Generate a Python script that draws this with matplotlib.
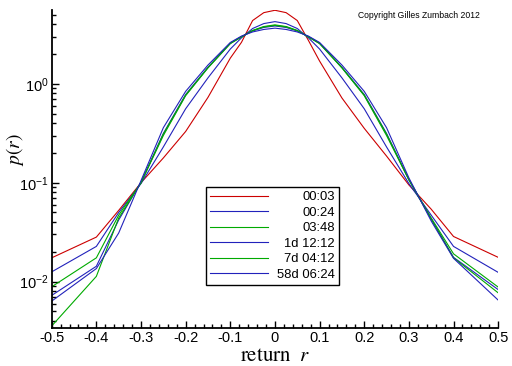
import numpy as np
import matplotlib
matplotlib.use("Agg")
import matplotlib.pyplot as plt
from matplotlib.ticker import LogLocator, MultipleLocator, NullFormatter, FuncFormatter

plt.rcParams['font.family'] = ['Liberation Sans', 'DejaVu Sans']
plt.rcParams['mathtext.fontset'] = 'stix'

r = [-0.5, -0.4, -0.35, -0.3, -0.25, -0.2, -0.15, -0.1, -0.075, -0.05, -0.025, 0.0,
     0.025, 0.05, 0.075, 0.1, 0.15, 0.2, 0.25, 0.3, 0.35, 0.4, 0.5]

labels = ["00:03", "00:24", "03:48", "1d 12:12", "7d 04:12", "58d 06:24"]
colors = ["#cc0000", "#2222bb", "#00aa00", "#2222bb", "#00aa00", "#2222bb"]

p_0003 = [0.0174, 0.0282, 0.0525, 0.100, 0.178, 0.33, 0.73, 1.82, 2.63, 4.37, 5.25, 5.55,
          5.25, 4.37, 2.75, 1.70, 0.72, 0.355, 0.186, 0.095, 0.054, 0.0286, 0.0176]
p_0024 = [0.01255, 0.0227, 0.050, 0.098, 0.23, 0.56, 1.15, 2.25, 2.92, 3.63, 4.07, 4.26,
          4.07, 3.63, 2.92, 2.25, 1.15, 0.56, 0.23, 0.098, 0.047, 0.0227, 0.0124]
p_0348 = [0.00887, 0.0174, 0.047, 0.100, 0.30, 0.76, 1.45, 2.55, 2.98, 3.47, 3.80, 3.95,
          3.80, 3.47, 2.98, 2.55, 1.45, 0.76, 0.30, 0.107, 0.044, 0.0191, 0.0088]
p_1d = [0.00725, 0.0143, 0.042, 0.101, 0.315, 0.78, 1.47, 2.58, 3.01, 3.43, 3.72, 3.85,
        3.72, 3.43, 3.01, 2.58, 1.47, 0.78, 0.315, 0.108, 0.043, 0.0176, 0.0083]
p_7d = [0.00356, 0.0113, 0.044, 0.100, 0.31, 0.77, 1.46, 2.57, 2.99, 3.45, 3.77, 3.90,
        3.77, 3.45, 2.99, 2.57, 1.46, 0.77, 0.31, 0.107, 0.043, 0.0174, 0.0077]
p_58d = [0.00635, 0.01355, 0.031, 0.105, 0.36, 0.84, 1.55, 2.62, 3.04, 3.35, 3.55, 3.66,
         3.55, 3.35, 3.04, 2.62, 1.55, 0.84, 0.36, 0.112, 0.041, 0.0172, 0.0065]

series = [p_0003, p_0024, p_0348, p_1d, p_7d, p_58d]

fig = plt.figure(figsize=(5.12, 3.66), dpi=100)
ax = fig.add_axes([0.101, 0.104, 0.872, 0.869])

for vals, lab, col in zip(series, labels, colors):
    ax.plot(r, vals, color=col, lw=0.8, label=lab)

ax.set_yscale('log')
ax.set_xlim(-0.5, 0.5)
ax.set_ylim(0.0034, 5.6)

ax.xaxis.set_major_locator(MultipleLocator(0.1))
ax.xaxis.set_minor_locator(MultipleLocator(0.02))
ax.xaxis.set_major_formatter(FuncFormatter(lambda v, pos: "0" if abs(v) < 1e-9 else f"{round(v, 2):g}"))
ax.yaxis.set_major_locator(LogLocator(base=10))
ax.yaxis.set_minor_locator(LogLocator(base=10, subs=np.arange(2, 10)))
ax.yaxis.set_minor_formatter(NullFormatter())

for s in ['top', 'right']:
    ax.spines[s].set_visible(False)
for s in ['left', 'bottom']:
    ax.spines[s].set_linewidth(1.3)

ax.tick_params(which='major', direction='in', length=5, width=1.0, labelsize=10.5, pad=2)
ax.tick_params(which='minor', direction='in', length=3, width=1.0)

ax.set_xlabel(r'$\mathrm{return}\ \ r$', fontsize=15, labelpad=1)
ax.set_ylabel(r'$p(r)$', fontsize=14)
ax.yaxis.set_label_coords(-0.058, 0.56)

fig.text(0.699, 0.957, 'Copyright Gilles Zumbach 2012', fontsize=6.2, va='center', ha='left')

leg = ax.legend(loc='upper left', bbox_to_anchor=(0.3457, 0.443), borderaxespad=0,
                fancybox=False, frameon=True, edgecolor='black', fontsize=9.4,
                handlelength=4.4, handletextpad=0.7, labelspacing=0.26, borderpad=0.32)
leg.get_frame().set_linewidth(1.0)
leg.get_frame().set_alpha(1)
fig.canvas.draw()
renderer = fig.canvas.get_renderer()
widths = [t.get_window_extent(renderer).width for t in leg.get_texts()]
W = max(widths)
for t, w in zip(leg.get_texts(), widths):
    t.set_position((W - w, 0))

fig.savefig('out.png', dpi=100)
